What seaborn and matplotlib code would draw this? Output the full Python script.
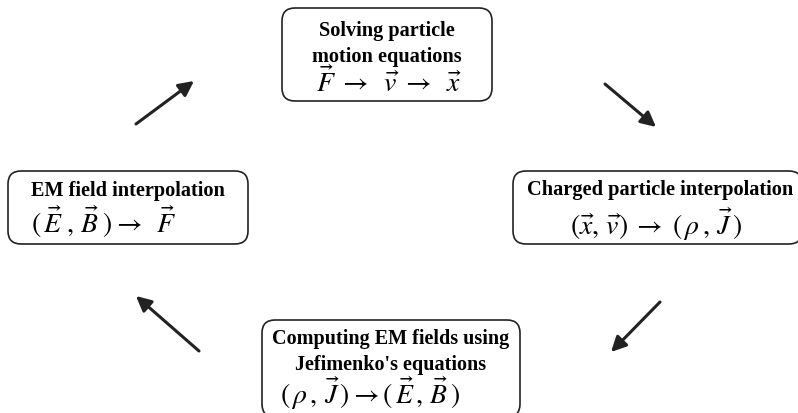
import matplotlib
matplotlib.use("Agg")
import matplotlib.pyplot as plt
from matplotlib.patches import FancyBboxPatch, FancyArrowPatch
import seaborn as sns

# text of the four steps of the loop
titles = [
    "Solving particle\nmotion equations",
    "Charged particle interpolation",
    "Computing EM fields using\nJefimenko's equations",
    "EM field interpolation",
]
formulas = [
    r"$\vec{F}\;\rightarrow\;\;\vec{v}\;\rightarrow\;\;\vec{x}$",
    r"$(\vec{x},\,\vec{v})\;\rightarrow\;(\,\rho\,,\,\vec{J}\,)$",
    r"$(\,\rho\,,\,\vec{J}\,)\rightarrow(\,\vec{E}\,,\,\vec{B}\,)$",
    r"$(\,\vec{E}\;,\,\vec{B}\;)\rightarrow\;\;\vec{F}$",
]

# layout in pixel coordinates (x0, y0, x1, y1), y going down
boxes = [(282, 9, 492, 102), (513, 172, 802, 245), (262, 321, 520, 418), (8, 172, 248, 245)]
title_x = [387, 660, 391, 128]
title_y = [44, 190, 352, 191]
formula_x = [389, 656, 370, 104]
formula_y = [82, 224, 393, 222]
title_size = [14.6, 14.7, 14.5, 14.6]
arrows = [((136, 125), (194, 82)), ((605, 85), (656, 128)),
          ((660, 303), (611, 353)), ((199, 352), (136, 297))]


def main():
    sns.set_style("white")
    plt.rcParams["mathtext.fontset"] = "stix"
    plt.rcParams["font.family"] = ["Liberation Serif", "DejaVu Serif"]

    fig = plt.figure(figsize=(7.98, 4.14), dpi=100)
    ax = fig.add_axes([0, 0, 1, 1])
    ax.set_xlim(0, 798)
    ax.set_ylim(414, 0)
    ax.axis("off")

    for i, (x0, y0, x1, y1) in enumerate(boxes):
        patch = FancyBboxPatch((x0, y0), x1 - x0, y1 - y0,
                               boxstyle="round,pad=0,rounding_size=13",
                               fc="white", ec="#222222", lw=1.2)
        ax.add_patch(patch)
        ax.text(title_x[i], title_y[i], titles[i], ha="center", va="center", fontsize=title_size[i],
                fontweight="bold", linespacing=1.42, color="black")
        ax.text(formula_x[i], formula_y[i], formulas[i], ha="center", va="center",
                fontsize=20, color="black")

    for start, end in arrows:
        arr = FancyArrowPatch(start, end, arrowstyle="-|>,head_length=9,head_width=4.5",
                              lw=2.2, color="#222222", shrinkA=0, shrinkB=0)
        ax.add_patch(arr)

    fig.savefig("out.png", dpi=100)


if __name__ == "__main__":
    main()
